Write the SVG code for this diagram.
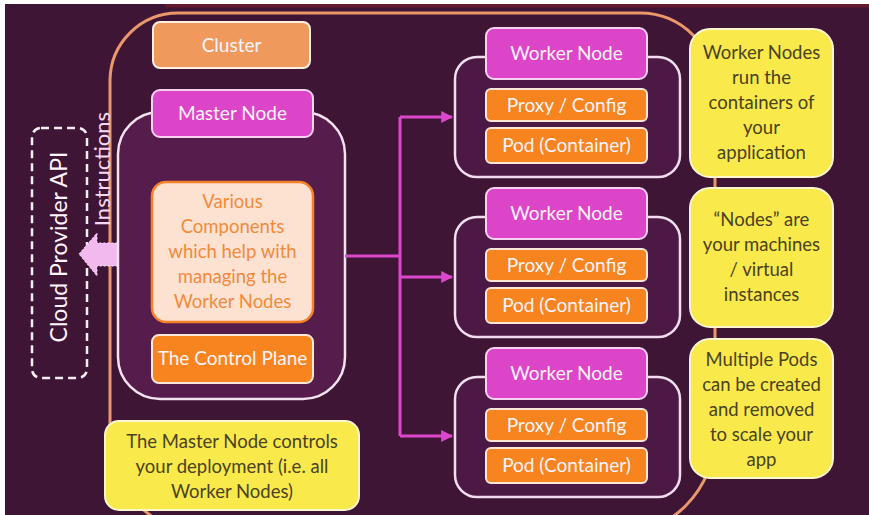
<svg xmlns="http://www.w3.org/2000/svg" width="869" height="515" viewBox="0 0 869 515">
  <defs>
    <marker id="arrow" viewBox="0 0 10 10" refX="9" refY="5" markerWidth="4" markerHeight="4" orient="auto" markerUnits="strokeWidth">
      <path d="M0,0 L10,5 L0,10 z" fill="#dc48cc"/>
    </marker>
    <style>
      text { font-family: Lato, "Open Sans", "Liberation Sans", sans-serif; text-anchor: middle; }
      .lbl { font-size: 19px; fill: #fff4fb; }
      .note { font-size: 18.5px; fill: #4a4222; }
      .comp { font-size: 18.5px; fill: #f28a3c; }
      .frame { fill: #561c4c; stroke: #f3e3ef; stroke-width: 2.5; }
      .wframe { fill: #4c1944; stroke: #f1ddef; stroke-width: 2.5; }
      .magenta { fill: #dd45c9; stroke: #f7d2f0; stroke-width: 2; }
      .orange { fill: #f7841e; stroke: #fde7d6; stroke-width: 2; }
      .yellow { fill: #f9e94b; stroke: #fff5cf; stroke-width: 2; }
      .conn { fill: none; stroke: #dc48cc; stroke-width: 3; }
    </style>
  </defs>

  <!-- backdrop -->
  <rect x="0" y="0" width="869" height="515" fill="#3e1535"/>
  <rect x="165" y="4" width="704" height="3.5" fill="#641a2c"/>
  <rect x="0" y="0" width="869" height="4" fill="#ffffff"/>
  <rect x="0" y="0" width="5" height="515" fill="#ffffff"/>

  <!-- cluster boundary -->
  <path d="M210,535 A100,100 0 0 1 110,435 V80 A68,68 0 0 1 178,13 H640 A75,75 0 0 1 715,88 V435 A100,100 0 0 1 615,535" fill="none" stroke="#ea986a" stroke-width="3"/>

  <!-- cloud provider -->
  <g id="cloud-provider">
    <rect x="32" y="128" width="55" height="250" rx="9" fill="none" stroke="#f4eef2" stroke-width="2.5" stroke-dasharray="8,5"/>
    <text class="lbl" transform="translate(67,247) rotate(-90)" style="font-size:23px">Cloud Provider API</text>
  </g>

  <!-- instructions arrow -->
  <g id="instructions">
    <polygon points="79,254 97,233 97,243 131,243 131,266 97,266 97,276" fill="#f1b9ee" stroke="#fbe0f8" stroke-width="1" stroke-dasharray="2,2"/>
    <text class="lbl" transform="translate(110,169) rotate(-90)" style="font-size:22px;fill:#f6d8f0">Instructions</text>
  </g>

  <!-- cluster title -->
  <g id="cluster">
    <rect x="153" y="22" width="157" height="46" rx="7" fill="#f0995c" stroke="#fff0e4" stroke-width="2"/>
    <text class="lbl" x="231.5" y="51.5">Cluster</text>
  </g>

  <!-- master node -->
  <g id="master-node">
    <rect class="frame" x="118" y="112" width="227" height="287" rx="42"/>
    <rect class="magenta" x="152" y="90" width="161" height="47" rx="8"/>
    <text class="lbl" x="232.5" y="120">Master Node</text>
    <rect x="152" y="182" width="161" height="140" rx="14" fill="#fde2d2" stroke="#f4822c" stroke-width="2.5"/>
    <text class="comp" x="232.5" y="207.5">Various</text>
    <text class="comp" x="232.5" y="232.5">Components</text>
    <text class="comp" x="232.5" y="257.5">which help with</text>
    <text class="comp" x="232.5" y="282.5">managing the</text>
    <text class="comp" x="232.5" y="307.5">Worker Nodes</text>
    <rect class="orange" x="152" y="335" width="161" height="48" rx="7"/>
    <text class="lbl" x="232.5" y="365">The Control Plane</text>
  </g>

  <!-- master note -->
  <g id="master-note">
    <rect class="yellow" x="105" y="421" width="254" height="89" rx="14"/>
    <text class="note" x="232" y="448">The Master Node controls</text>
    <text class="note" x="232" y="473">your deployment (i.e. all</text>
    <text class="note" x="232" y="498">Worker Nodes)</text>
  </g>

  <!-- connectors -->
  <g id="connectors">
    <path class="conn" d="M345,256 H400"/>
    <path class="conn" d="M400,117 V436"/>
    <path class="conn" d="M400,117 H452" marker-end="url(#arrow)"/>
    <path class="conn" d="M400,277 H452" marker-end="url(#arrow)"/>
    <path class="conn" d="M400,436 H452" marker-end="url(#arrow)"/>
  </g>

  <!-- worker nodes -->
  <g id="worker-node-1">
    <rect class="wframe" x="455" y="57" width="225" height="120" rx="22"/>
    <rect class="magenta" x="486" y="28" width="161" height="51" rx="8"/>
    <text class="lbl" x="566.5" y="60">Worker Node</text>
    <rect class="orange" x="486" y="89" width="161" height="32" rx="5"/>
    <text class="lbl" x="566.5" y="112">Proxy / Config</text>
    <rect class="orange" x="486" y="128" width="161" height="35" rx="5"/>
    <text class="lbl" x="566.5" y="152">Pod (Container)</text>
  </g>

  <g id="worker-node-2">
    <rect class="wframe" x="455" y="217" width="225" height="120" rx="22"/>
    <rect class="magenta" x="486" y="188" width="161" height="51" rx="8"/>
    <text class="lbl" x="566.5" y="220">Worker Node</text>
    <rect class="orange" x="486" y="249" width="161" height="32" rx="5"/>
    <text class="lbl" x="566.5" y="272">Proxy / Config</text>
    <rect class="orange" x="486" y="288" width="161" height="35" rx="5"/>
    <text class="lbl" x="566.5" y="312">Pod (Container)</text>
  </g>

  <g id="worker-node-3">
    <rect class="wframe" x="455" y="377" width="225" height="120" rx="22"/>
    <rect class="magenta" x="486" y="348" width="161" height="51" rx="8"/>
    <text class="lbl" x="566.5" y="380">Worker Node</text>
    <rect class="orange" x="486" y="409" width="161" height="32" rx="5"/>
    <text class="lbl" x="566.5" y="432">Proxy / Config</text>
    <rect class="orange" x="486" y="448" width="161" height="35" rx="5"/>
    <text class="lbl" x="566.5" y="472">Pod (Container)</text>
  </g>

  <!-- side notes -->
  <g id="note-workers">
    <rect class="yellow" x="690" y="29" width="143" height="148" rx="20"/>
    <text class="note" x="761.5" y="59">Worker Nodes</text>
    <text class="note" x="761.5" y="84">run the</text>
    <text class="note" x="761.5" y="109">containers of</text>
    <text class="note" x="761.5" y="134">your</text>
    <text class="note" x="761.5" y="159">application</text>
  </g>

  <g id="note-nodes">
    <rect class="yellow" x="690" y="188" width="143" height="139" rx="20"/>
    <text class="note" x="761.5" y="226">“Nodes” are</text>
    <text class="note" x="761.5" y="251">your machines</text>
    <text class="note" x="761.5" y="276">/ virtual</text>
    <text class="note" x="761.5" y="301">instances</text>
  </g>

  <g id="note-pods">
    <rect class="yellow" x="690" y="339" width="143" height="139" rx="20"/>
    <text class="note" x="761.5" y="366">Multiple Pods</text>
    <text class="note" x="761.5" y="391">can be created</text>
    <text class="note" x="761.5" y="416">and removed</text>
    <text class="note" x="761.5" y="441">to scale your</text>
    <text class="note" x="761.5" y="466">app</text>
  </g>
</svg>
